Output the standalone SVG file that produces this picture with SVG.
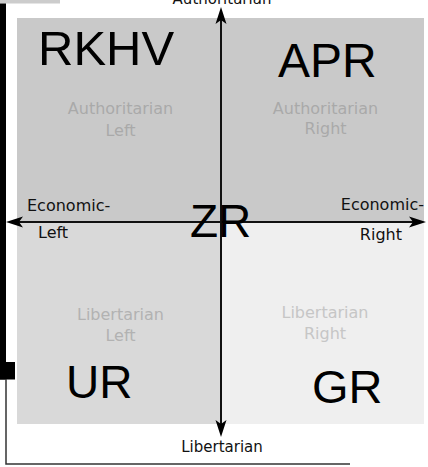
<svg xmlns="http://www.w3.org/2000/svg" width="428" height="467" viewBox="0 0 428 467">
<style>
.big{font-family:"Liberation Sans",Arial,sans-serif;fill:#000}
.ax{font-family:"DejaVu Sans",sans-serif;font-size:15px;fill:#111}
.eco{font-family:"DejaVu Sans",sans-serif;font-size:16px;fill:#111}
.q{font-family:"DejaVu Sans",sans-serif;font-size:16px;text-anchor:middle}
.axis{stroke:#111;stroke-width:2;fill:none;marker-start:url(#ah);marker-end:url(#ah)}
</style>
<defs>
<marker id="ah" markerUnits="userSpaceOnUse" viewBox="-17 -6 17 12" markerWidth="17" markerHeight="12" refX="-13" refY="0" orient="auto-start-reverse">
<path d="M0,0 L-17,-5.5 L-13,0 L-17,5.5 Z" fill="#000"/>
</marker>
</defs>
<rect x="0" y="0" width="428" height="467" fill="#fff"/>
<rect x="0" y="0" width="60" height="3.5" fill="#cccccc"/>
<rect x="0" y="3.5" width="6" height="376" fill="#000"/>
<rect x="0" y="362" width="15" height="17.5" fill="#000"/>
<path d="M6,379 V464 H350" fill="none" stroke="#333" stroke-width="1.5"/>
<g id="quadrant-al"><rect x="17" y="18" width="204" height="204" fill="#c9c9c9"/>
<text class="q" x="120.5" y="114" fill="#a9a9a9">Authoritarian</text>
<text class="q" x="120.5" y="136" fill="#a9a9a9">Left</text></g>
<g id="quadrant-ar"><rect x="221" y="18" width="203" height="204" fill="#c9c9c9"/>
<text class="q" x="325.5" y="114" fill="#a9a9a9">Authoritarian</text>
<text class="q" x="325.5" y="134" fill="#a9a9a9">Right</text></g>
<g id="quadrant-ll"><rect x="17" y="222" width="204" height="202" fill="#d9d9d9"/>
<text class="q" x="120.5" y="320" fill="#b2b2b2">Libertarian</text>
<text class="q" x="120.5" y="341" fill="#b2b2b2">Left</text></g>
<g id="quadrant-lr"><rect x="221" y="222" width="203" height="202" fill="#efefef"/>
<text class="q" x="325" y="318" fill="#c6c6c6">Libertarian</text>
<text class="q" x="325" y="339" fill="#c6c6c6">Right</text></g>
<g id="connectors">
<line class="axis" x1="221" y1="424" x2="221" y2="20"/>
<line class="axis" x1="19" y1="222" x2="413" y2="222"/>
</g>
<g id="axis-labels">
<text class="ax" x="222" y="4" text-anchor="middle">Authoritarian</text>
<text class="ax" x="222" y="452" text-anchor="middle">Libertarian</text>
<text class="eco" x="27" y="211">Economic-</text>
<text class="eco" x="38" y="238">Left</text>
<text class="eco" x="424" y="210" text-anchor="end">Economic-</text>
<text class="eco" x="402" y="240" text-anchor="end">Right</text>
</g>
<g id="node-rkhv"><text class="big" x="38" y="65" font-size="49">RKHV</text></g>
<g id="node-apr"><text class="big" x="278" y="77" font-size="48">APR</text></g>
<g id="node-zr"><text class="big" x="190" y="237" font-size="46">ZR</text></g>
<g id="node-ur"><text class="big" x="66" y="398" font-size="46">UR</text></g>
<g id="node-gr"><text class="big" x="312" y="403" font-size="47">GR</text></g>
</svg>
